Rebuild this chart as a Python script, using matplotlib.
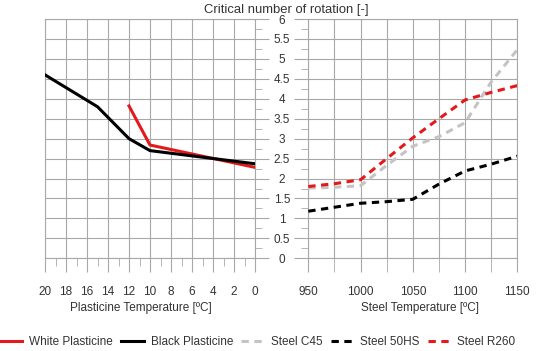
#!/usr/bin/env python3
"""Critical number of rotation vs plasticine / steel temperature (two panels)."""
import matplotlib
matplotlib.use("Agg")
import matplotlib.pyplot as plt
from matplotlib.ticker import MultipleLocator, NullFormatter

plt.rcParams["font.family"] = ["Liberation Sans", "DejaVu Sans"]

# --- data ---
plasticine_temp_white = [12, 10, 0]
white_plasticine = [3.82, 2.84, 2.28]

plasticine_temp_black = [20, 15, 12, 10, 0]
black_plasticine = [4.60, 3.80, 3.00, 2.70, 2.37]

steel_temp = [950, 975, 1000, 1025, 1050, 1075, 1100, 1125, 1150]
steel_c45 = [1.76, 1.78, 1.82, 2.33, 2.81, 3.05, 3.40, 4.42, 5.23]
steel_50hs = [1.18, 1.28, 1.38, 1.42, 1.48, 1.86, 2.19, 2.36, 2.56]
steel_r260 = [1.80, 1.87, 1.97, 2.50, 3.02, 3.50, 3.97, 4.16, 4.33]

plasticine_ticks = list(range(20, -1, -2))
steel_ticks = [950, 1000, 1050, 1100, 1150]

RED = "#e3191c"
GREY = "#c4c4c4"
GRID = "#a8a8a8"
TXT = "#333333"
FS = 8.5
LW = 2.2
DASH = (2.4, 1.8)

W, H = 550, 351
bottom = (H - 258.3) / H
height = (258.3 - 19) / H

fig = plt.figure(figsize=(W / 100, H / 100), dpi=100)
ax1 = fig.add_axes([45 / W, bottom, 210 / W, height])
ax2 = fig.add_axes([308.3 / W, bottom, 209 / W, height])

# left panel: plasticine
ax1.plot(plasticine_temp_white, white_plasticine, color=RED, lw=LW,
         label="White Plasticine", zorder=3)
ax1.plot(plasticine_temp_black, black_plasticine, color="black", lw=LW,
         label="Black Plasticine", zorder=3)
ax1.set_xlim(20, 0)
ax1.set_xticks(plasticine_ticks)
ax1.xaxis.set_minor_locator(MultipleLocator(1))
ax1.yaxis.tick_right()
ax1.tick_params(axis="y", which="major", length=10, direction="out",
                color=GRID, labelright=False)
ax1.tick_params(axis="y", which="minor", length=5, direction="out", color=GRID)
ax1.tick_params(axis="x", which="major", length=10, color=GRID,
                labelsize=FS, labelcolor=TXT, pad=10)
ax1.tick_params(axis="x", which="minor", length=6, color=GRID)

# right panel: steel
ax2.plot(steel_temp, steel_c45, color=GREY, lw=LW, dashes=DASH,
         label="Steel C45", zorder=3)
ax2.plot(steel_temp, steel_50hs, color="black", lw=LW, dashes=DASH,
         label="Steel 50HS", zorder=3)
ax2.plot(steel_temp, steel_r260, color=RED, lw=LW, dashes=DASH,
         label="Steel R260", zorder=3)
ax2.set_xlim(950, 1150)
ax2.set_xticks(steel_ticks)
ax2.xaxis.set_minor_locator(MultipleLocator(25))
ax2.xaxis.set_minor_formatter(NullFormatter())
ax2.tick_params(axis="x", which="both", length=10, color=GRID,
                labelsize=FS, labelcolor=TXT, pad=10)
ax2.tick_params(axis="y", which="major", length=10, color=GRID,
                labelsize=FS, labelcolor=TXT, pad=9)
ax2.tick_params(axis="y", which="minor", length=5, color=GRID)
ax2.yaxis.set_major_formatter(lambda v, _: f"{v:g}")

for ax in (ax1, ax2):
    ax.set_ylim(0, 6)
    ax.yaxis.set_major_locator(MultipleLocator(0.5))
    ax.yaxis.set_minor_locator(MultipleLocator(0.25))
    ax.grid(True, which="major", color=GRID, lw=0.8)
    for sp in ax.spines.values():
        sp.set_color(GRID)
        sp.set_linewidth(0.8)
ax2.grid(True, which="minor", axis="x", color=GRID, lw=0.8)

fig.canvas.draw()
for lab in ax2.get_yticklabels():
    lab.set_horizontalalignment("center")

fig.text(286.5 / W, 1 - 10 / H, "Critical number of rotation [-]",
         ha="center", va="center", fontsize=9.4, color=TXT)
fig.text(141 / W, 1 - 308 / H, "Plasticine Temperature [ºC]",
         ha="center", va="center", fontsize=FS, color=TXT)
fig.text(420 / W, 1 - 308 / H, "Steel Temperature [ºC]",
         ha="center", va="center", fontsize=FS, color=TXT)

handles = ax1.get_lines() + ax2.get_lines()
fig.legend(handles, [h.get_label() for h in handles], ncol=5, loc="center",
           bbox_to_anchor=(257.5 / W, 1 - 341.7 / H), frameon=False,
           fontsize=FS, labelcolor=TXT, handlelength=1.9, handletextpad=0.6,
           columnspacing=0.7)

fig.savefig("out.png", dpi=100)
plt.close(fig)
